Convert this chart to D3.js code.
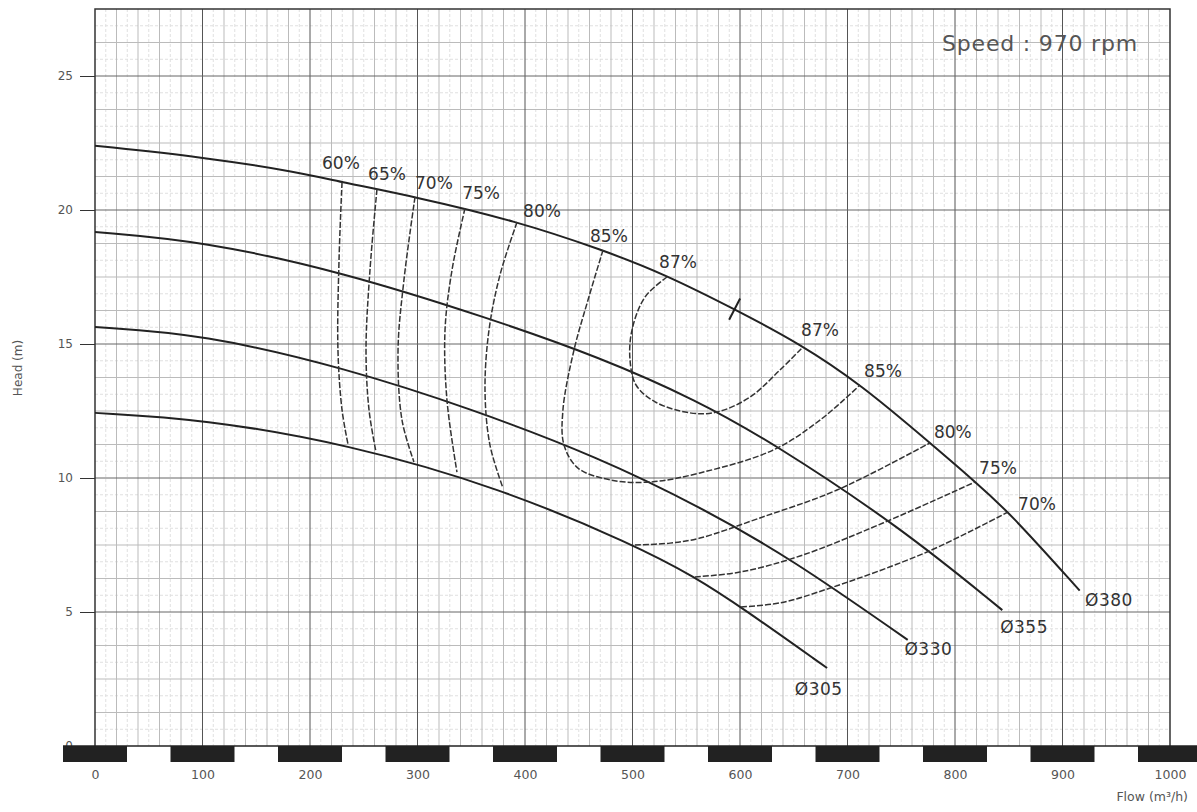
<!DOCTYPE html>
<html>
<head>
<meta charset="utf-8">
<script src="https://cdn.jsdelivr.net/npm/d3@7"></script>
<style>
  body { margin: 0; background: #fff; }
  svg { display: block; }
  text { font-family: "DejaVu Sans", sans-serif; }
</style>
</head>
<body>
<svg width="1197" height="812"></svg>
<script>
// impeller curves: [flow m3/h, head m]
const imp380 = [[0,22.4],[100,21.98],[191,21.4],[228,21.05],[297,20.5],[391,19.6],[473,18.5],[530,17.6],[595,16.3],[656,15.0],[712,13.5],[777,11.3],[819,9.85],[851,8.7],[916,5.8]];
const imp355 = [[0,19.18],[100,18.84],[230,17.69],[366,15.97],[470,14.5],[560,12.9],[631,11.3],[749,8.17],[844,5.07]];
const imp330 = [[0,15.63],[100,15.37],[233,14.1],[349,12.6],[470,10.75],[563,8.92],[647,7.01],[756,3.96]];
const imp305 = [[0,12.43],[100,12.2],[235,11.27],[377,9.63],[502,7.5],[558,6.31],[601,5.19],[681,2.91]];
const impNames = ['Ø380','Ø355','Ø330','Ø305'];
const impLabelAt = [[921,5.45],[842,4.44],[753,3.62],[651,2.13]];

// iso-efficiency curves
const eff60 = [[229.8,21.04],[227.0,18.13],[226.0,14.78],[229.8,12.54],[235.3,11.27]];
const eff65 = [[262.3,20.78],[255.8,17.76],[252.1,14.78],[254.9,12.54],[261.4,10.97]];
const eff70 = [[297.7,20.49],[287.4,17.39],[281.9,14.78],[285.6,12.16],[296.7,10.6]];
const eff75 = [[344.2,20.07],[332.1,17.76],[325.6,15.52],[327.4,12.91],[336.7,10.22]];
const eff80L = [[392.6,19.55],[376.7,17.57],[366.5,15.52],[362.8,13.28],[367.4,11.23],[379.5,9.63]];
const eff85 = [[472.6,18.51],[458.6,16.64],[445.6,14.78],[435.3,12.54],[436.3,11.23],[449.3,10.37],[479.1,9.93],[516.3,9.85],[562.8,10.19],[630.7,11.04],[674.4,12.16],[711.6,13.47]];
const eff87 = [[532.1,17.5],[511.6,16.75],[499.5,15.52],[497.7,14.4],[503.3,13.47],[521,12.84],[553.5,12.43],[578.6,12.46],[609.3,13.02],[637.2,14.03],[658.6,14.89]];
const eff80R = [[502.3,7.5],[534.9,7.57],[562.8,7.76],[618.6,8.51],[690.2,9.55],[776.7,11.31]];
const eff75R = [[558.1,6.31],[600,6.49],[655.8,7.09],[733,8.32],[818.6,9.85]];
const eff70R = [[601,5.19],[637.2,5.34],[686.5,5.93],[774,7.24],[849.3,8.73]];

const effLabels = ['60%','65%','70%','75%','80%','85%','87%','87%','85%','80%','75%','70%'];
const effLabelAt = [[228.8,21.75],[271.6,21.34],[315.3,21.0],[359.1,20.63],[415.8,19.96],[478.1,19.03],[542.3,18.06],[674.4,15.52],[733,14.0],[798,11.72],[840,10.37],[876.3,9.03]];

const bepFlow = 595;
const xTicks = d3.range(0, 1001, 100);
const yTicks = [0, 5, 10, 15, 20, 25];

const svg = d3.select('svg');
const x = d3.scaleLinear().domain([0, 1000]).range([95, 1170]);
const y = d3.scaleLinear().domain([0, 27.5]).range([746, 9]);

// grid
const g = svg.append('g');
g.selectAll('.vf').data(d3.range(10, 1000, 20)).join('line')
  .attr('x1', d => x(d)).attr('x2', d => x(d)).attr('y1', y(27.5)).attr('y2', y(0))
  .attr('stroke', '#e0e0e0').attr('stroke-dasharray', '3,2');
g.selectAll('.hf').data(d3.range(0.625, 27.5, 1.25)).join('line')
  .attr('x1', x(0)).attr('x2', x(1000)).attr('y1', d => y(d)).attr('y2', d => y(d))
  .attr('stroke', '#e0e0e0').attr('stroke-dasharray', '3,2');
g.selectAll('.vm').data(d3.range(20, 1000, 20).filter(d => d % 100)).join('line')
  .attr('x1', d => x(d)).attr('x2', d => x(d)).attr('y1', y(27.5)).attr('y2', y(0))
  .attr('stroke', '#bbb');
g.selectAll('.hm').data(d3.range(1.25, 27.5, 1.25).filter(d => d % 5)).join('line')
  .attr('x1', x(0)).attr('x2', x(1000)).attr('y1', d => y(d)).attr('y2', d => y(d))
  .attr('stroke', '#bbb');
g.selectAll('.vM').data(d3.range(100, 1000, 100)).join('line')
  .attr('x1', d => x(d)).attr('x2', d => x(d)).attr('y1', y(27.5)).attr('y2', y(0))
  .attr('stroke', '#555');
g.selectAll('.hM').data([5, 10, 15, 20, 25]).join('line')
  .attr('x1', x(0)).attr('x2', x(1000)).attr('y1', d => y(d)).attr('y2', d => y(d))
  .attr('stroke', '#666');

// frame
svg.append('path')
  .attr('d', `M${x(0)},${y(0)}V${y(27.5)}H${x(1000)}V${y(0)}`)
  .attr('fill', 'none').attr('stroke', '#333').attr('stroke-width', 1.5);

// y axis
const ya = svg.append('g').attr('transform', `translate(${x(0)},0)`)
  .call(d3.axisLeft(y).tickValues(yTicks).tickSize(15).tickPadding(7));
ya.select('.domain').remove();
ya.selectAll('line').attr('stroke', '#333');
ya.selectAll('text').attr('fill', '#555').style('font-size', '12px');
svg.append('text').attr('transform', `translate(22,368) rotate(-90)`)
  .attr('text-anchor', 'middle').attr('fill', '#555').style('font-size', '12px').text('Head (m)');

// x bars + axis
svg.selectAll('.bar').data(xTicks).join('rect')
  .attr('x', d => x(d) - 32).attr('y', y(0)).attr('width', 64).attr('height', 16)
  .attr('fill', '#222');
svg.append('line').attr('x1', 63).attr('x2', 1197).attr('y1', y(0)).attr('y2', y(0))
  .attr('stroke', '#222').attr('stroke-width', 1.5);
const xa = svg.append('g').attr('transform', `translate(0,${y(0)})`)
  .call(d3.axisBottom(x).tickValues(xTicks).tickFormat(d3.format('d')).tickSize(0).tickPadding(24));
xa.select('.domain').remove();
xa.selectAll('text').attr('fill', '#555').style('font-size', '12.5px');
svg.append('text').attr('x', 1188).attr('y', 801).attr('text-anchor', 'end')
  .attr('fill', '#555').style('font-size', '12.5px').text('Flow (m³/h)');

// curves
const smoothImp = d3.line().x(d => x(d[0])).y(d => y(d[1])).curve(d3.curveBasis);
const smoothEff = d3.line().x(d => x(d[0])).y(d => y(d[1])).curve(d3.curveCatmullRom.alpha(0.5));
[imp380, imp355, imp330, imp305].forEach(c => {
  svg.append('path').attr('d', smoothImp(c)).attr('fill', 'none')
    .attr('stroke', '#222').attr('stroke-width', 2);
});
[eff60, eff65, eff70, eff75, eff80L, eff85, eff87, eff80R, eff75R, eff70R].forEach(c => {
  svg.append('path').attr('d', smoothEff(c)).attr('fill', 'none')
    .attr('stroke', '#333').attr('stroke-width', 1.5).attr('stroke-dasharray', '6,2');
});

// best efficiency mark on Ø380
{
  const i = imp380.findIndex(d => d[0] === bepFlow);
  const a = imp380[i - 1], b = imp380[i + 1];
  const dx = x(b[0]) - x(a[0]), dy = y(b[1]) - y(a[1]);
  const L = Math.hypot(dx, dy), nx = -dy / L * 12, ny = dx / L * 12;
  const cx = x(imp380[i][0]), cy = y(imp380[i][1]);
  svg.append('line').attr('x1', cx - nx).attr('y1', cy - ny).attr('x2', cx + nx).attr('y2', cy + ny)
    .attr('stroke', '#222').attr('stroke-width', 2);
}

// labels
svg.selectAll('.el').data(effLabels).join('text')
  .attr('x', (d, i) => x(effLabelAt[i][0])).attr('y', (d, i) => y(effLabelAt[i][1]))
  .attr('dy', '0.35em').attr('text-anchor', 'middle')
  .attr('fill', '#333').style('font-size', '17px').text(d => d);
svg.selectAll('.il').data(impNames).join('text')
  .attr('x', (d, i) => x(impLabelAt[i][0])).attr('y', (d, i) => y(impLabelAt[i][1]))
  .attr('dy', '0.35em').attr('fill', '#333').style('font-size', '17px').style('letter-spacing', '0.5px').text(d => d);

svg.append('text').attr('x', 1040).attr('y', 51).attr('text-anchor', 'middle')
  .attr('fill', '#555').style('font-size', '22px').style('letter-spacing', '0.8px').text('Speed : 970 rpm');
</script>
</body>
</html>
